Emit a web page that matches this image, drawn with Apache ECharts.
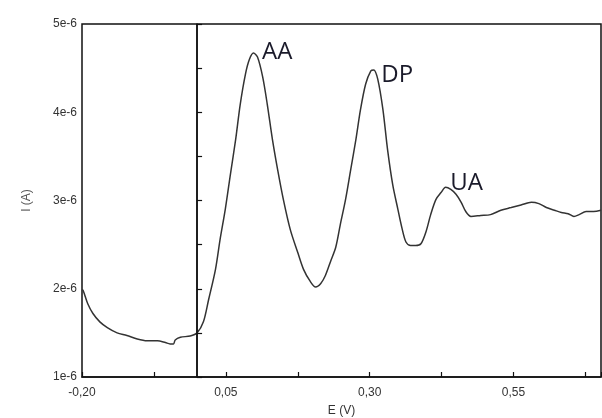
<!DOCTYPE html>
<html><head><meta charset="utf-8">
<script src="https://cdn.jsdelivr.net/npm/echarts@6/dist/echarts.min.js"></script>
<style>html,body{margin:0;padding:0;background:#fff}#c{width:602px;height:418px}</style>
</head><body><div id="c"></div>
<script>
// Potential E (V)
const eValues = [-0.200,-0.198,-0.190,-0.181,-0.169,-0.156,-0.139,-0.122,-0.104,-0.087,-0.069,-0.055,-0.047,-0.041,-0.038,-0.029,-0.012,0.000,
0.011,0.020,0.032,0.040,0.049,0.058,0.067,0.075,0.084,0.091,0.098,0.105,0.114,0.122,0.131,0.140,0.150,0.162,0.175,0.185,0.197,0.206,
0.215,0.223,0.232,0.241,0.249,0.258,0.267,0.276,0.284,0.293,0.302,0.307,0.314,0.323,0.331,0.340,0.349,0.356,0.363,0.371,0.380,0.389,
0.398,0.406,0.415,0.424,0.432,0.441,0.450,0.459,0.467,0.476,0.493,0.510,0.528,0.546,0.563,0.581,0.594,0.607,0.621,0.633,0.645,0.655,
0.664,0.676,0.689,0.702];
// Current I (A)
const iValues = [1.99e-6,1.98e-6,1.83e-6,1.72e-6,1.625e-6,1.56e-6,1.50e-6,1.47e-6,1.43e-6,1.41e-6,1.41e-6,1.39e-6,1.375e-6,1.375e-6,1.42e-6,1.45e-6,1.465e-6,1.50e-6,
1.625e-6,1.875e-6,2.22e-6,2.56e-6,2.90e-6,3.30e-6,3.69e-6,4.09e-6,4.43e-6,4.60e-6,4.67e-6,4.625e-6,4.40e-6,4.09e-6,3.69e-6,3.35e-6,3.01e-6,2.67e-6,2.41e-6,2.22e-6,2.08e-6,2.02e-6,
2.06e-6,2.15e-6,2.31e-6,2.47e-6,2.73e-6,3.01e-6,3.35e-6,3.69e-6,4.03e-6,4.32e-6,4.47e-6,4.48e-6,4.375e-6,4.03e-6,3.58e-6,3.18e-6,2.90e-6,2.69e-6,2.53e-6,2.49e-6,2.49e-6,2.51e-6,
2.65e-6,2.84e-6,3.01e-6,3.09e-6,3.15e-6,3.125e-6,3.07e-6,2.98e-6,2.875e-6,2.82e-6,2.83e-6,2.84e-6,2.89e-6,2.92e-6,2.95e-6,2.98e-6,2.965e-6,2.92e-6,2.89e-6,2.865e-6,2.85e-6,2.82e-6,
2.84e-6,2.875e-6,2.875e-6,2.89e-6];
// Peak annotations
const peakNames = ['AA','DP','UA'];
const peakE = [0.098, 0.307, 0.432];
const peakI = [4.67e-6, 4.48e-6, 3.15e-6];
const vLineE = 0.0;
const xTicks = {min:-0.20, max:0.702, step:0.25};
const yTicks = {min:1e-6, max:5e-6, step:1e-6};

const labelOffsets = [[8,-1],[7,5],[4,-4]];
const chart = echarts.init(document.getElementById('c'), null, {renderer:'canvas'});
chart.setOption({
  animation:false,
  backgroundColor:'#fff',
  grid:{left:82,right:1,top:24,bottom:41,show:true,borderColor:'#111',borderWidth:1.5,backgroundColor:'transparent',
    containLabel:false,outerBoundsMode:'none'},
  xAxis:{type:'value',min:xTicks.min,max:xTicks.max,interval:xTicks.step,
    name:'E (V)',nameLocation:'middle',nameGap:28,nameTextStyle:{fontFamily:'Liberation Sans',fontSize:12,color:'#333'},
    axisLine:{lineStyle:{color:'#111',width:1.5}},
    axisTick:{inside:true,length:5,lineStyle:{color:'#111',width:1.2}},
    minorTick:{show:true,splitNumber:2,length:5,lineStyle:{color:'#111',width:1.2}},
    splitLine:{show:false},
    axisLabel:{fontFamily:'Liberation Sans',fontSize:12,color:'#333',margin:10,showMaxLabel:false,
      formatter:v=>v.toFixed(2).replace('.',',')}},
  yAxis:{type:'value',min:yTicks.min,max:yTicks.max,interval:yTicks.step,
    name:'I (A)',nameLocation:'middle',nameGap:49,nameTextStyle:{fontFamily:'Liberation Sans',fontSize:12,color:'#555'},
    axisLine:{lineStyle:{color:'#111',width:1.5}},
    axisTick:{inside:true,length:5,lineStyle:{color:'#111',width:1.2}},
    minorTick:{show:true,splitNumber:2,length:5,lineStyle:{color:'#111',width:1.2}},
    splitLine:{show:false},
    axisLabel:{fontFamily:'Liberation Sans',fontSize:12,color:'#333',margin:5,
      formatter:v=>Math.round(v*1e6)+'e-6'}},
  series:[{
    type:'line',showSymbol:false,smooth:0.3,
    data:eValues.map((e,i)=>[e,iValues[i]]),
    lineStyle:{color:'#333',width:1.5},
    markLine:{silent:true,symbol:'none',label:{show:false},
      lineStyle:{color:'#111',width:1.5,type:'solid'},
      data:[{xAxis:vLineE}]},
    markPoint:{symbol:'circle',symbolSize:1,itemStyle:{color:'transparent'},
      data:peakNames.map((n,i)=>({coord:[peakE[i],peakI[i]],value:n,
        label:{show:true,position:'right',distance:0,offset:labelOffsets[i],formatter:n,
          fontFamily:'Open Sans',fontSize:24,color:'#1a1a2a'}}))}
  }]
});
</script></body></html>
